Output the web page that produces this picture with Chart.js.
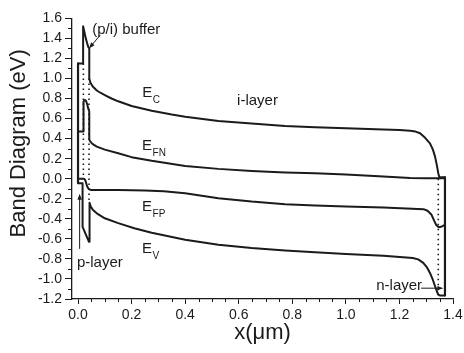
<!DOCTYPE html>
<html>
<head>
<meta charset="utf-8">
<script src="https://cdn.jsdelivr.net/npm/chart.js@4.4.1/dist/chart.umd.min.js"></script>
<style>
  html, body { margin: 0; padding: 0; background: #fff; }
  #band-chart { display: block; }
</style>
</head>
<body>
<canvas id="band-chart" width="464" height="353"></canvas>
<script>
// band edges, [x (um), energy (eV)]
let conductionBand = [
  [0, 1.15], [0.019, 1.15], [0.019, 1.52], [0.024, 1.46], [0.029, 1.40], [0.034, 1.35],
  [0.039, 1.31], [0.042, 1.30], [0.042, 1.00], [0.046, 0.96], [0.055, 0.92], [0.07, 0.88],
  [0.085, 0.855], [0.10, 0.834], [0.125, 0.80], [0.15, 0.772], [0.20, 0.725], [0.275, 0.678],
  [0.35, 0.64], [0.40, 0.618], [0.524, 0.575], [0.648, 0.55], [0.773, 0.525], [0.885, 0.512],
  [1.0, 0.503], [1.14, 0.492], [1.2, 0.486], [1.24, 0.479], [1.26, 0.47], [1.277, 0.453],
  [1.295, 0.41], [1.314, 0.353], [1.325, 0.29], [1.333, 0.22], [1.34, 0.13], [1.345, 0.055],
  [1.349, 0.015], [1.37, 0.015]
];
let electronQuasiFermi = [
  [0, 0.47], [0.019, 0.47], [0.019, 0.70], [0.022, 0.77], [0.026, 0.785], [0.030, 0.775],
  [0.034, 0.745], [0.038, 0.70], [0.042, 0.67], [0.042, 0.39], [0.046, 0.37], [0.055, 0.345],
  [0.07, 0.32], [0.10, 0.29], [0.15, 0.254], [0.20, 0.215], [0.275, 0.178], [0.40, 0.127],
  [0.524, 0.098], [0.648, 0.078], [0.773, 0.063], [0.885, 0.055], [1.0, 0.042], [1.14, 0.021],
  [1.24, 0.008], [1.30, 0.005], [1.37, 0.005]
];
let holeQuasiFermi = [
  [0, 0.0], [0.022, 0.0], [0.026, -0.01], [0.030, -0.04], [0.034, -0.075], [0.038, -0.095],
  [0.043, -0.108], [0.05, -0.112], [0.15, -0.113], [0.25, -0.118], [0.32, -0.125], [0.40, -0.145],
  [0.524, -0.194], [0.648, -0.228], [0.773, -0.254], [0.885, -0.268], [1.0, -0.278], [1.14, -0.287],
  [1.29, -0.304], [1.305, -0.32], [1.32, -0.36], [1.33, -0.42], [1.338, -0.465], [1.347, -0.485],
  [1.355, -0.48], [1.37, -0.46]
];
let valenceBand = [
  [0, -0.045], [0.017, -0.045], [0.017, -0.48], [0.041, -0.63], [0.043, -0.63], [0.043, -0.24],
  [0.047, -0.275], [0.055, -0.31], [0.07, -0.345], [0.10, -0.395], [0.15, -0.443], [0.21, -0.495],
  [0.275, -0.54], [0.40, -0.609], [0.524, -0.659], [0.648, -0.692], [0.773, -0.716], [0.885, -0.733],
  [1.0, -0.75], [1.14, -0.768], [1.25, -0.791], [1.27, -0.805], [1.289, -0.84], [1.303, -0.885],
  [1.314, -0.94], [1.325, -1.01], [1.333, -1.073], [1.34, -1.125], [1.345, -1.156], [1.352, -1.166],
  [1.37, -1.166]
];
let leftContact = [[0, 1.15], [0, -0.045]];
let rightContact = [[1.37, 0.015], [1.37, -1.166]];
let bufferEdge = [[0.02, 1.15], [0.02, 0.0]];
let bufferEnd = [[0.041, 1.0], [0.041, -0.24]];
let nLayerEdge = [[1.345, 0.0], [1.345, -1.16]];

let xTicks = [0.0, 0.2, 0.4, 0.6, 0.8, 1.0, 1.2, 1.4];
let yTicks = [-1.2, -1.0, -0.8, -0.6, -0.4, -0.2, 0.0, 0.2, 0.4, 0.6, 0.8, 1.0, 1.2, 1.4, 1.6];
let xMinorTicks = [0.05, 0.1, 0.15, 0.25, 0.3, 0.35, 0.45, 0.5, 0.55, 0.65, 0.7, 0.75,
                   0.85, 0.9, 0.95, 1.05, 1.1, 1.15, 1.25, 1.3, 1.35];
let yMinorTicks = [-1.1, -0.9, -0.7, -0.5, -0.3, -0.1, 0.1, 0.3, 0.5, 0.7, 0.9, 1.1, 1.3, 1.5];

// text labels: [text, subscript, x, y]
let bandLabels = [
  ['E', 'C', 0.24, 0.818],
  ['E', 'FN', 0.239, 0.29],
  ['E', 'FP', 0.239, -0.324],
  ['E', 'V', 0.239, -0.744],
  ['(p/i) buffer', '', 0.053, 1.448],
  ['i-layer', '', 0.594, 0.735],
  ['p-layer', '', -0.004, -0.877],
  ['n-layer', '', 1.1135, -1.112]
];
// arrows: [x0, y0, x1, y1] head at the second point
let labelArrows = [
  [0.083, 1.433, 0.041, 1.30],
  [0.006, -0.70, 0.006, -0.15],
  [1.281, -1.092, 1.364, -1.092]
];

let ink = '#1c1a1b';
let fontFamily = '"Liberation Sans", Arial, Helvetica, sans-serif';

let toPoints = (arr) => arr.map(p => ({x: p[0], y: p[1]}));

let solid = (label, arr, width) => ({
  label: label,
  data: toPoints(arr),
  borderColor: ink,
  backgroundColor: ink,
  borderWidth: width,
  pointRadius: 0,
  tension: 0,
  borderJoinStyle: 'round'
});
let dotted = (label, arr) => ({
  label: label,
  data: toPoints(arr),
  borderColor: ink,
  borderWidth: 1.6,
  borderDash: [1.6, 3.4],
  pointRadius: 0
});

let bandExtras = {
  id: 'bandExtras',
  afterDraw(chart) {
    let ctx = chart.ctx;
    let xs = chart.scales.x, ys = chart.scales.y;
    let area = chart.chartArea;
    ctx.save();
    ctx.strokeStyle = ink;
    ctx.fillStyle = ink;
    ctx.lineWidth = 1;
    // minor ticks
    ctx.beginPath();
    yMinorTicks.forEach(v => {
      let py = Math.round(ys.getPixelForValue(v)) + 0.5;
      ctx.moveTo(area.left - 4, py);
      ctx.lineTo(area.left, py);
    });
    xMinorTicks.forEach(v => {
      let px = Math.round(xs.getPixelForValue(v)) + 0.5;
      ctx.moveTo(px, area.bottom);
      ctx.lineTo(px, area.bottom + 3);
    });
    ctx.stroke();

    // labels
    ctx.textBaseline = 'alphabetic';
    ctx.textAlign = 'left';
    bandLabels.forEach(l => {
      let px = xs.getPixelForValue(l[2]);
      let py = ys.getPixelForValue(l[3]);
      ctx.font = '15px ' + fontFamily;
      ctx.fillText(l[0], px, py);
      if (l[1]) {
        let w = ctx.measureText(l[0]).width;
        ctx.font = '10px ' + fontFamily;
        ctx.fillText(l[1], px + w + 0.5, py + 6);
      }
    });

    // arrows
    labelArrows.forEach(a => {
      let x0 = xs.getPixelForValue(a[0]), y0 = ys.getPixelForValue(a[1]);
      let x1 = xs.getPixelForValue(a[2]), y1 = ys.getPixelForValue(a[3]);
      let ang = Math.atan2(y1 - y0, x1 - x0);
      ctx.beginPath();
      ctx.moveTo(x0, y0);
      ctx.lineTo(x1 - 4 * Math.cos(ang), y1 - 4 * Math.sin(ang));
      ctx.stroke();
      ctx.beginPath();
      ctx.moveTo(x1, y1);
      ctx.lineTo(x1 - 6 * Math.cos(ang) + 2.2 * Math.sin(ang), y1 - 6 * Math.sin(ang) - 2.2 * Math.cos(ang));
      ctx.lineTo(x1 - 6 * Math.cos(ang) - 2.2 * Math.sin(ang), y1 - 6 * Math.sin(ang) + 2.2 * Math.cos(ang));
      ctx.closePath();
      ctx.fill();
    });
    ctx.restore();
  }
};

let bandCtx = document.getElementById('band-chart');

let bandCfg = {
  type: 'line',
  data: {
    datasets: [
      solid('Ec', conductionBand, 2),
      solid('EFN', electronQuasiFermi, 2),
      solid('EFP', holeQuasiFermi, 2),
      solid('Ev', valenceBand, 2),
      solid('p contact', leftContact, 2.2),
      solid('n contact', rightContact, 2.2),
      dotted('buffer edge', bufferEdge),
      dotted('buffer end', bufferEnd),
      dotted('n-layer edge', nLayerEdge)
    ]
  },
  options: {
    responsive: false,
    animation: false,
    devicePixelRatio: 1,
    layout: {
      padding: {top: 18.3, right: 11, left: 0, bottom: 0}
    },
    plugins: {
      legend: {display: false},
      tooltip: {enabled: false}
    },
    scales: {
      x: {
        type: 'linear',
        position: 'bottom',
        min: -0.0225,
        max: 1.4,
        afterBuildTicks: (scale) => { scale.ticks = xTicks.map(v => ({value: v})); },
        afterFit: (scale) => {
          scale.height = 54;
          scale.paddingLeft = 0;
          scale.paddingRight = 0;
        },
        ticks: {
          color: ink,
          font: {family: fontFamily, size: 14},
          padding: 3,
          maxRotation: 0,
          autoSkip: false,
          callback: (v) => (Math.abs(v) < 1e-9 ? 0 : v).toFixed(1)
        },
        grid: {
          drawOnChartArea: false,
          drawTicks: true,
          tickLength: 5,
          tickColor: ink,
          tickWidth: 1
        },
        border: {display: true, color: ink, width: 1.3},
        title: {
          display: true,
          text: 'x(\u03bcm)',
          color: ink,
          font: {family: fontFamily, size: 22},
          padding: {top: 0, bottom: 7}
        }
      },
      y: {
        type: 'linear',
        position: 'left',
        min: -1.2,
        max: 1.6,
        afterBuildTicks: (scale) => { scale.ticks = yTicks.map(v => ({value: v})); },
        afterFit: (scale) => {
          scale.width = 72;
          scale.paddingTop = 0;
          scale.paddingBottom = 0;
        },
        ticks: {
          color: ink,
          font: {family: fontFamily, size: 14},
          padding: 3,
          autoSkip: false,
          callback: (v) => (Math.abs(v) < 1e-9 ? 0 : v).toFixed(1)
        },
        grid: {
          drawOnChartArea: false,
          drawTicks: true,
          tickLength: 7,
          tickColor: ink,
          tickWidth: 1
        },
        border: {display: true, color: ink, width: 1.3},
        title: {
          display: true,
          text: '     Band Diagram (eV)',
          color: ink,
          font: {family: fontFamily, size: 22},
          padding: {top: 6, bottom: 0}
        }
      }
    }
  },
  plugins: [bandExtras]
};

let bandChart = new Chart(bandCtx, bandCfg);
</script>
</body>
</html>
